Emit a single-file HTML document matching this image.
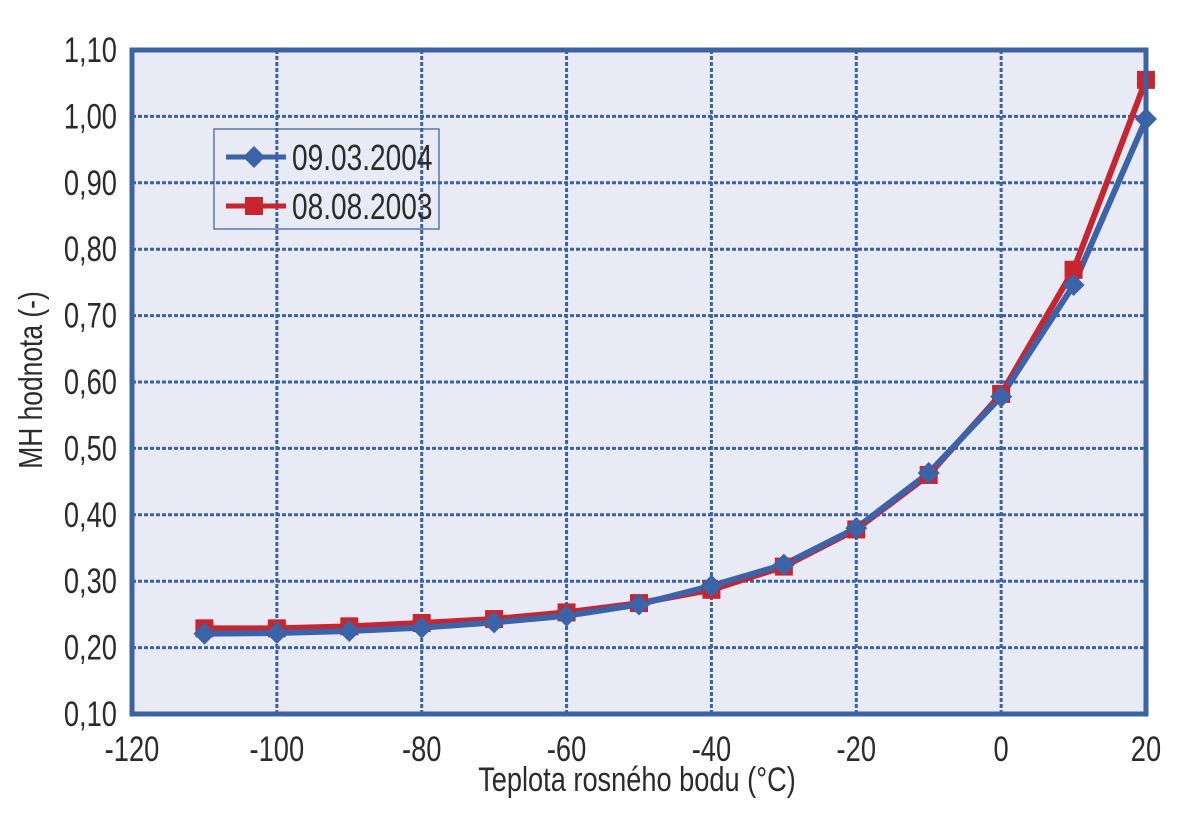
<!DOCTYPE html>
<html><head><meta charset="utf-8"><style>
html,body{margin:0;padding:0;background:#fff}
svg text{font-family:"Liberation Sans",sans-serif;fill:#2b2b2b}
</style></head><body>
<svg width="1180" height="832" viewBox="0 0 1180 832">
<rect x="132" y="50" width="1014" height="664" fill="#e8eaf6"/>
<g id="grid"></g>
<g id="axes"></g>
<g id="series"></g>
<rect x="132" y="50" width="1014" height="664" fill="none" stroke="#3a63a3" stroke-width="5"/>
<g>
<rect x="214" y="129" width="225" height="100" fill="none" stroke="#3a5a95" stroke-width="1.2"/>
<g>
<line x1="226" y1="157" x2="286" y2="157" stroke="#3a63a8" stroke-width="5"/>
<polygon points="254,146 265,157 254,168 243,157" fill="#3a63a8"/>
<text x="292" y="170" font-size="36" transform="translate(292,0) scale(0.78,1) translate(-292,0)">09.03.2004</text>
</g>
<g>
<line x1="226" y1="206" x2="286" y2="206" stroke="#c8252f" stroke-width="5"/>
<rect x="245" y="197" width="18" height="18" fill="#c8252f"/>
<text x="292" y="219" font-size="36" transform="translate(292,0) scale(0.78,1) translate(-292,0)">08.08.2003</text>
</g>
</g>
<text x="637" y="791" font-size="34" text-anchor="middle" transform="translate(637,0) scale(0.8,1) translate(-637,0)">Teplota rosného bodu (°C)</text>
<text x="0" y="0" font-size="33" text-anchor="middle" transform="translate(42,380) rotate(-90) scale(0.8,1)">MH hodnota (-)</text>
</svg>
<script>
const temps=[-110,-100,-90,-80,-70,-60,-50,-40,-30,-20,-10,0,10,20];
const s2004=[0.221,0.222,0.225,0.230,0.238,0.248,0.265,0.293,0.325,0.380,0.463,0.578,0.746,0.996];
const s2003=[0.229,0.229,0.232,0.237,0.243,0.253,0.267,0.287,0.322,0.378,0.460,0.582,0.769,1.055];
const xTicks=[-120,-100,-80,-60,-40,-20,0,20];
const yTicks=[0.1,0.2,0.3,0.4,0.5,0.6,0.7,0.8,0.9,1.0,1.1];
const NS="http://www.w3.org/2000/svg";
const X=v=>132+(v+120)/140*1014;
const Y=v=>714-(v-0.1)/1.0*664;
function mk(tag,attrs,parent){const e=document.createElementNS(NS,tag);for(const k in attrs)e.setAttribute(k,attrs[k]);parent.appendChild(e);return e;}
const grid=document.getElementById('grid'),axes=document.getElementById('axes'),ser=document.getElementById('series');
yTicks.forEach(v=>{
 if(v>0.15&&v<1.05){const l=mk('line',{x1:132,x2:1146,y1:Y(v),y2:Y(v),stroke:'#3a63a3','stroke-width':3,'stroke-dasharray':'4 2'},grid);
 
 }
 const t=mk('text',{x:117,y:Y(v)+12,'font-size':35,'text-anchor':'end',transform:`translate(117,0) scale(0.78,1) translate(-117,0)`},axes);
 t.textContent=v.toFixed(2).replace('.',',');
 
 
});
xTicks.forEach(v=>{
 if(v>-120&&v<20){const l=mk('line',{x1:X(v),x2:X(v),y1:50,y2:714,stroke:'#3a63a3','stroke-width':3,'stroke-dasharray':'4 2'},grid);
 
 }
 const t=mk('text',{x:X(v),y:761,'font-size':35,'text-anchor':'middle',transform:`translate(${X(v)},0) scale(0.78,1) translate(${-X(v)},0)`},axes);
 t.textContent=String(v);
 
 
});
function line(vals,color,name){
 const p=mk('polyline',{points:temps.map((t,i)=>X(t)+','+Y(vals[i])).join(' '),fill:'none',stroke:color,'stroke-width':6,'stroke-linejoin':'round'},ser);
 
 
}
line(s2003,'#c8252f','line-2003');
line(s2004,'#3a63a8','line-2004');
temps.forEach((t,i)=>{
 const r=mk('rect',{x:X(t)-9,y:Y(s2003[i])-9,width:18,height:18,fill:'#c8252f'},ser);
 
 
});
temps.forEach((t,i)=>{
 const x=X(t),y=Y(s2004[i]);
 const d=mk('polygon',{points:`${x},${y-11} ${x+11},${y} ${x},${y+11} ${x-11},${y}`,fill:'#3a63a8'},ser);
 
 
});
</script>
</body></html>
